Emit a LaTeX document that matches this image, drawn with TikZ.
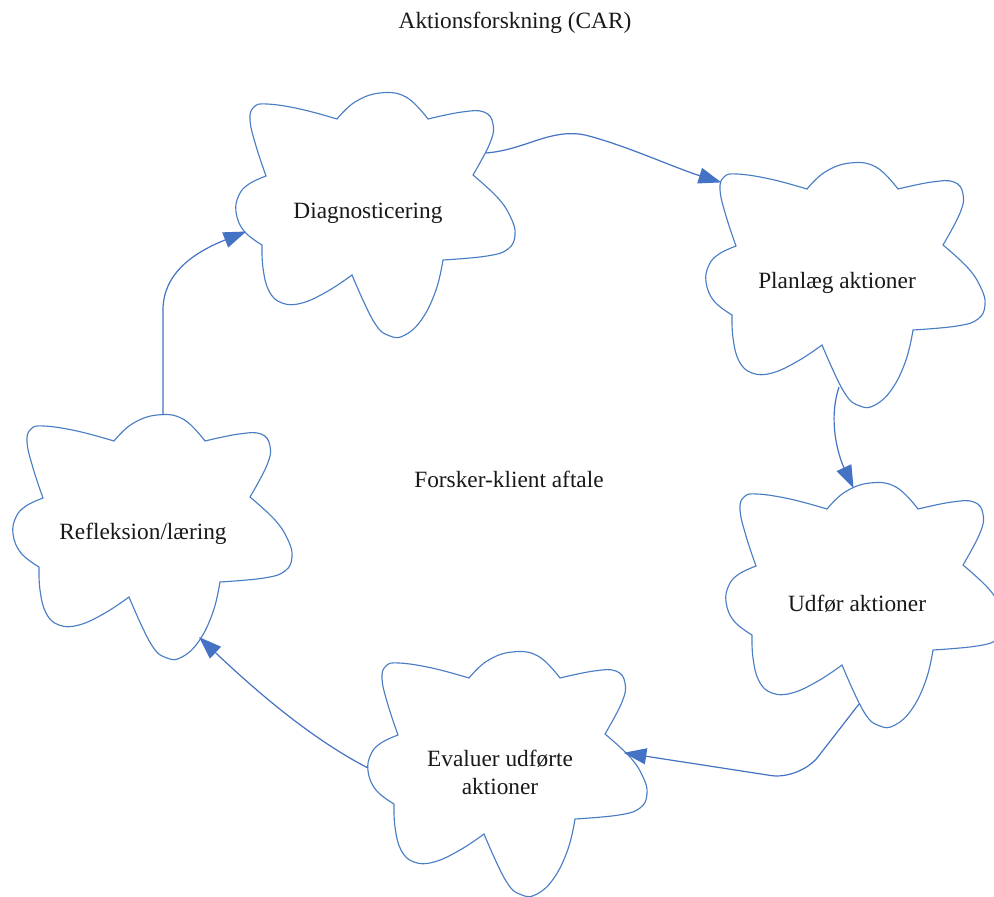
\documentclass[tikz,border=0pt]{standalone}
\usepackage{fontspec}
\setmainfont{Liberation Serif}
\usetikzlibrary{arrows.meta}
\definecolor{cloudblue}{RGB}{74,126,196}
\definecolor{arrowblue}{RGB}{68,114,196}
\newcommand{\cloudoutline}{%
  plot[smooth,tension=0.7] coordinates {(266,176) (256,146) (250,120) (254,107) (267,104) (300,109) (337,119)}
  -- plot[smooth,tension=0.7] coordinates {(337,119) (355,102) (380,93) (406,97) (428,119)}
  -- plot[smooth,tension=0.7] coordinates {(428,119) (462,112) (484,112) (493,124) (490,143) (473,175)}
  -- plot[smooth,tension=0.7] coordinates {(473,175) (498,198) (511,218) (515,235) (508,249) (487,256) (443,260)}
  -- plot[smooth,tension=0.7] coordinates {(443,260) (436,290) (422,319) (405,335) (390,336) (374,322) (352,275)}
  -- plot[smooth,tension=0.7] coordinates {(352,275) (328,291) (302,303) (282,303) (269,291) (263,268) (262,245)}
  -- plot[smooth,tension=0.7] coordinates {(262,245) (244,231) (236,212) (239,195) (249,184) (266,176)}
  -- cycle}
\tikzset{
  cloudline/.style={draw=cloudblue, line width=0.85pt, fill=white},
  label/.style={font=\fontsize{17.5}{21}\selectfont, text=black!90, align=center, inner sep=0pt},
  flow/.style={draw=arrowblue, line width=0.9pt, -{Triangle[length=17pt,width=12pt]}, shorten >=-1pt}
}
\begin{document}
\begin{tikzpicture}[x=0.75pt,y=-0.75pt]
\useasboundingbox[fill=white] (0,0) rectangle (994,896);
% clouds
\begin{scope}\draw[cloudline] \cloudoutline;\end{scope}
\begin{scope}[shift={(470,70)}]\draw[cloudline] \cloudoutline;\end{scope}
\begin{scope}[shift={(490,390)}]\draw[cloudline] \cloudoutline;\end{scope}
\begin{scope}[shift={(132,559)}]\draw[cloudline] \cloudoutline;\end{scope}
\begin{scope}[shift={(-223,322)}]\draw[cloudline] \cloudoutline;\end{scope}
% texts
\node[label] (title) at (515,23) {Aktionsforskning (CAR)};
\node[label] (diag) at (368,213) {Diagnosticering};
\node[label] (plan) at (837,283) {Planlæg aktioner};
\node[label] (center) at (509,479) {Forsker-klient aftale};
\node[label] (refl) at (143,534) {Refleksion/læring};
\node[label] (udf) at (857,604) {Udfør aktioner};
\node[label] (eval) at (500,772) {Evaluer udførte\\aktioner};
% connector anchors on cloud borders
\coordinate (diagOut) at (486,153);
\coordinate (planIn) at (720,182);
\coordinate (planOut) at (839,387);
\coordinate (udfIn) at (853,487);
\coordinate (udfOut) at (859,704);
\coordinate (evalIn) at (625,753);
\coordinate (evalOut) at (368,768);
\coordinate (reflIn) at (200,638);
\coordinate (reflOut) at (163,415);
\coordinate (diagIn) at (245,232);
% connectors
\draw[flow] (diagOut) .. controls (525,150) and (550,128) .. (585,135) .. controls (625,145) and (675,168) .. (planIn);
\draw[flow] (planOut) .. controls (828,420) and (838,455) .. (udfIn);
\draw[flow, rounded corners=22] (udfOut) -- (800,780) -- (evalIn);
\draw[flow] (evalOut) .. controls (310,738) and (255,690) .. (reflIn);
\draw[flow] (reflOut) -- (163,310) .. controls (163,270) and (200,250) .. (diagIn);
\end{tikzpicture}
\end{document}
